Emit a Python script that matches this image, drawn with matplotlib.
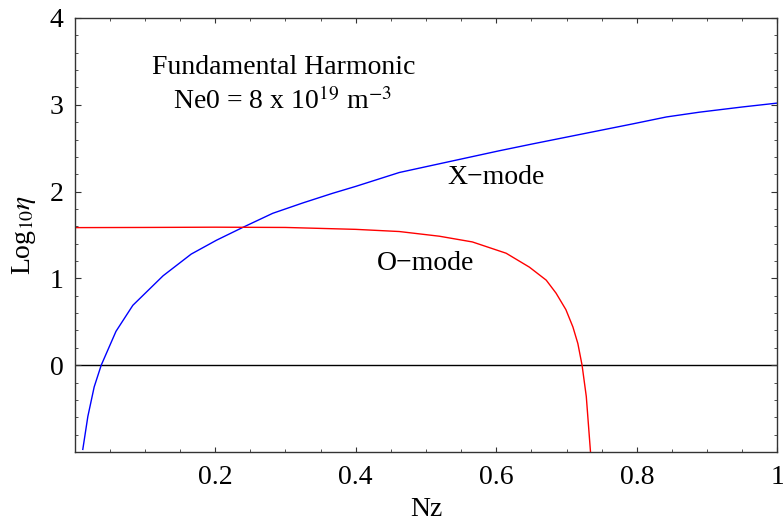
import matplotlib
matplotlib.use("Agg")
import matplotlib.pyplot as plt
from matplotlib.ticker import MultipleLocator, FixedLocator

plt.rcParams["font.family"] = ["Liberation Serif", "DejaVu Serif"]
plt.rcParams["mathtext.fontset"] = "stix"

# X-mode curve
x_mode_nz = [0.0118, 0.019, 0.028, 0.038, 0.059, 0.083, 0.126, 0.166, 0.202,
             0.240, 0.282, 0.325, 0.367, 0.40, 0.462, 0.55, 0.604, 0.652,
             0.794, 0.842, 0.889, 0.95, 1.0]
x_mode_log = [-0.97, -0.59, -0.25, 0.0, 0.39, 0.69, 1.03, 1.28, 1.44,
              1.59, 1.75, 1.87, 1.98, 2.06, 2.22, 2.375, 2.47, 2.55,
              2.78, 2.86, 2.915, 2.975, 3.02]

# O-mode curve
o_mode_nz = [0.0, 0.1, 0.2, 0.3, 0.4, 0.462, 0.519, 0.566, 0.614, 0.647,
             0.671, 0.685, 0.699, 0.709, 0.716, 0.722, 0.728, 0.731, 0.734]
o_mode_log = [1.585, 1.587, 1.59, 1.587, 1.565, 1.54, 1.486, 1.42, 1.29, 1.13,
              0.98, 0.83, 0.64, 0.44, 0.25, 0.0, -0.36, -0.68, -1.0]

x_ticks = [0.2, 0.4, 0.6, 0.8, 1.0]
x_tick_labels = ["0.2", "0.4", "0.6", "0.8", "1"]
y_ticks = [0, 1, 2, 3, 4]
y_tick_labels = ["0", "1", "2", "3", "4"]

fs = 20

fig = plt.figure(figsize=(7.83, 5.28), dpi=100)
ax = fig.add_axes([74.5 / 783, 1 - 452 / 528, (777.5 - 74.5) / 783, (452 - 18) / 528])

ax.axhline(0, color="black", lw=1.0, zorder=1)
ax.plot(x_mode_nz, x_mode_log, color="#0000ff", lw=1.0, zorder=2)
ax.plot(o_mode_nz, o_mode_log, color="#ff0000", lw=1.0, zorder=2)

ax.set_xlim(0, 1)
ax.set_ylim(-1, 4)

ax.xaxis.set_major_locator(FixedLocator(x_ticks))
ax.set_xticklabels(x_tick_labels)
ax.xaxis.set_minor_locator(MultipleLocator(0.05))
ax.yaxis.set_major_locator(FixedLocator(y_ticks))
ax.set_yticklabels(y_tick_labels)
ax.yaxis.set_minor_locator(MultipleLocator(0.2))

frame_col = "#333333"
for sp in ax.spines.values():
    sp.set_color(frame_col)
    sp.set_linewidth(1.0)

ax.tick_params(axis="both", which="both", direction="in", top=True, right=True,
               color=frame_col, labelsize=fs)
ax.tick_params(axis="x", which="major", length=3.5, pad=9)
ax.tick_params(axis="x", which="minor", length=2)
ax.tick_params(axis="y", which="major", length=4.5, pad=8)
ax.tick_params(axis="y", which="minor", length=2.5)

ax.set_xlabel("Nz", fontsize=fs)
ax.xaxis.set_label_coords(0.5, -0.104)
ax.set_ylabel(r"Log$_{10}\eta$", fontsize=fs)
ax.yaxis.set_label_coords(-0.052, 0.5)

ax.text(0.298, 3.36, "Fundamental Harmonic", ha="center", va="baseline", fontsize=fs)
ax.text(0.296, 2.954, r"Ne0 = 8 x 10$^{19}$ m$^{-3}$", ha="center", va="baseline",
        fontsize=fs)
ax.text(0.599, 2.09, "X\u2212mode", ha="center", va="baseline", fontsize=fs)
ax.text(0.500, 1.095, "O\u2212mode", ha="center", va="baseline", fontsize=fs)

fig.savefig("out.png", dpi=100)
